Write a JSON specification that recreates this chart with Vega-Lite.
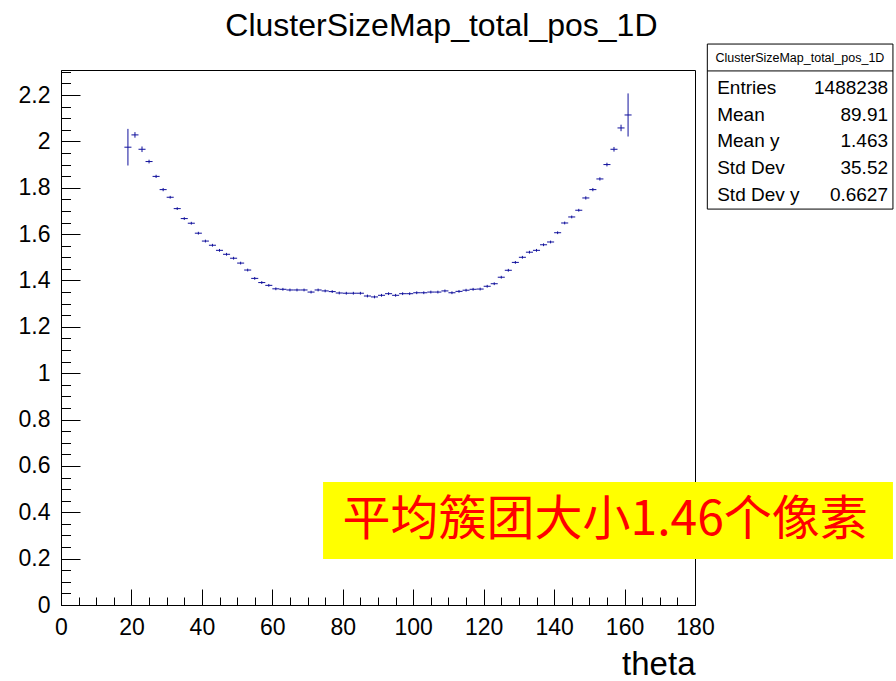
{
  "$schema": "https://vega.github.io/schema/vega-lite/v6.json",
  "width": 634,
  "height": 535,
  "autosize": {"type": "none"},
  "padding": {"left": 61, "top": 70, "right": 201, "bottom": 76},
  "background": "white",
  "config": {
    "view": {"stroke": "#000000", "strokeWidth": 1},
    "font": "Liberation Sans"
  },
  "encoding": {
    "x": {
      "type": "quantitative",
      "scale": {"domain": [0, 180], "nice": false, "zero": false},
      "axis": {
        "title": "theta",
        "titleFont": "Liberation Sans",
        "titleFontSize": 33,
        "titleFontWeight": "normal",
        "titleColor": "#000000",
        "titleAnchor": "end",
        "titleAlign": "right",
        "titleBaseline": "alphabetic",
        "titlePadding": 27,
        "values": [0,5,10,15,20,25,30,35,40,45,50,55,60,65,70,75,80,85,90,95,100,105,110,115,120,125,130,135,140,145,150,155,160,165,170,175,180],
        "labelExpr": "datum.value % 20 === 0 ? datum.label : ''",
        "tickSize": {"condition": {"test": "datum.value % 20 === 0", "value": -16}, "value": -8},
        "tickColor": "#000000",
        "domainColor": "#000000",
        "labelFont": "Liberation Sans",
        "labelFontSize": 23,
        "labelColor": "#000000",
        "labelPadding": 27,
        "labelFlush": false,
        "labelOverlap": false,
        "grid": false
      }
    },
    "y": {
      "type": "quantitative",
      "scale": {"domain": [0, 2.308], "nice": false, "zero": false},
      "axis": {
        "title": null,
        "values": [0,0.05,0.1,0.15,0.2,0.25,0.3,0.35,0.4,0.45,0.5,0.55,0.6,0.65,0.7,0.75,0.8,0.85,0.9,0.95,1,1.05,1.1,1.15,1.2,1.25,1.3,1.35,1.4,1.45,1.5,1.55,1.6,1.65,1.7,1.75,1.8,1.85,1.9,1.95,2,2.05,2.1,2.15,2.2,2.25,2.3],
        "format": "~g",
        "labelExpr": "abs(datum.value * 5 - round(datum.value * 5)) < 0.001 ? datum.label : ''",
        "tickSize": {"condition": {"test": "abs(datum.value * 5 - round(datum.value * 5)) < 0.001", "value": -19}, "value": -9.5},
        "tickColor": "#000000",
        "domainColor": "#000000",
        "labelFont": "Liberation Sans",
        "labelFontSize": 23,
        "labelColor": "#000000",
        "labelPadding": 30,
        "labelFlush": false,
        "labelOverlap": false,
        "grid": false
      }
    }
  },
  "datasets": {
    "bins": [
      {"theta": 19, "lo": 18, "hi": 20, "v": 1.975, "err": 0.079},
      {"theta": 21, "lo": 20, "hi": 22, "v": 2.028, "err": 0.012},
      {"theta": 23, "lo": 22, "hi": 24, "v": 1.966, "err": 0.012},
      {"theta": 25, "lo": 24, "hi": 26, "v": 1.913, "err": 0.008},
      {"theta": 27, "lo": 26, "hi": 28, "v": 1.849, "err": 0.007},
      {"theta": 29, "lo": 28, "hi": 30, "v": 1.792, "err": 0.007},
      {"theta": 31, "lo": 30, "hi": 32, "v": 1.759, "err": 0.006},
      {"theta": 33, "lo": 32, "hi": 34, "v": 1.710, "err": 0.006},
      {"theta": 35, "lo": 34, "hi": 36, "v": 1.667, "err": 0.006},
      {"theta": 37, "lo": 36, "hi": 38, "v": 1.647, "err": 0.006},
      {"theta": 39, "lo": 38, "hi": 40, "v": 1.604, "err": 0.006},
      {"theta": 41, "lo": 40, "hi": 42, "v": 1.570, "err": 0.006},
      {"theta": 43, "lo": 42, "hi": 44, "v": 1.552, "err": 0.006},
      {"theta": 45, "lo": 44, "hi": 46, "v": 1.530, "err": 0.006},
      {"theta": 47, "lo": 46, "hi": 48, "v": 1.513, "err": 0.006},
      {"theta": 49, "lo": 48, "hi": 50, "v": 1.496, "err": 0.006},
      {"theta": 51, "lo": 50, "hi": 52, "v": 1.475, "err": 0.006},
      {"theta": 53, "lo": 52, "hi": 54, "v": 1.445, "err": 0.006},
      {"theta": 55, "lo": 54, "hi": 56, "v": 1.409, "err": 0.006},
      {"theta": 57, "lo": 56, "hi": 58, "v": 1.391, "err": 0.006},
      {"theta": 59, "lo": 58, "hi": 60, "v": 1.379, "err": 0.006},
      {"theta": 61, "lo": 60, "hi": 62, "v": 1.364, "err": 0.006},
      {"theta": 63, "lo": 62, "hi": 64, "v": 1.362, "err": 0.006},
      {"theta": 65, "lo": 64, "hi": 66, "v": 1.359, "err": 0.006},
      {"theta": 67, "lo": 66, "hi": 68, "v": 1.359, "err": 0.006},
      {"theta": 69, "lo": 68, "hi": 70, "v": 1.359, "err": 0.006},
      {"theta": 71, "lo": 70, "hi": 72, "v": 1.350, "err": 0.006},
      {"theta": 73, "lo": 72, "hi": 74, "v": 1.359, "err": 0.006},
      {"theta": 75, "lo": 74, "hi": 76, "v": 1.355, "err": 0.006},
      {"theta": 77, "lo": 76, "hi": 78, "v": 1.352, "err": 0.006},
      {"theta": 79, "lo": 78, "hi": 80, "v": 1.346, "err": 0.006},
      {"theta": 81, "lo": 80, "hi": 82, "v": 1.345, "err": 0.006},
      {"theta": 83, "lo": 82, "hi": 84, "v": 1.345, "err": 0.006},
      {"theta": 85, "lo": 84, "hi": 86, "v": 1.345, "err": 0.006},
      {"theta": 87, "lo": 86, "hi": 88, "v": 1.333, "err": 0.006},
      {"theta": 89, "lo": 88, "hi": 90, "v": 1.329, "err": 0.006},
      {"theta": 91, "lo": 90, "hi": 92, "v": 1.336, "err": 0.006},
      {"theta": 93, "lo": 92, "hi": 94, "v": 1.343, "err": 0.006},
      {"theta": 95, "lo": 94, "hi": 96, "v": 1.336, "err": 0.006},
      {"theta": 97, "lo": 96, "hi": 98, "v": 1.343, "err": 0.006},
      {"theta": 99, "lo": 98, "hi": 100, "v": 1.343, "err": 0.006},
      {"theta": 101, "lo": 100, "hi": 102, "v": 1.347, "err": 0.006},
      {"theta": 103, "lo": 102, "hi": 104, "v": 1.347, "err": 0.006},
      {"theta": 105, "lo": 104, "hi": 106, "v": 1.350, "err": 0.006},
      {"theta": 107, "lo": 106, "hi": 108, "v": 1.350, "err": 0.006},
      {"theta": 109, "lo": 108, "hi": 110, "v": 1.355, "err": 0.006},
      {"theta": 111, "lo": 110, "hi": 112, "v": 1.347, "err": 0.006},
      {"theta": 113, "lo": 112, "hi": 114, "v": 1.353, "err": 0.006},
      {"theta": 115, "lo": 114, "hi": 116, "v": 1.358, "err": 0.006},
      {"theta": 117, "lo": 116, "hi": 118, "v": 1.362, "err": 0.006},
      {"theta": 119, "lo": 118, "hi": 120, "v": 1.363, "err": 0.006},
      {"theta": 121, "lo": 120, "hi": 122, "v": 1.375, "err": 0.006},
      {"theta": 123, "lo": 122, "hi": 124, "v": 1.386, "err": 0.006},
      {"theta": 125, "lo": 124, "hi": 126, "v": 1.414, "err": 0.006},
      {"theta": 127, "lo": 126, "hi": 128, "v": 1.444, "err": 0.006},
      {"theta": 129, "lo": 128, "hi": 130, "v": 1.478, "err": 0.006},
      {"theta": 131, "lo": 130, "hi": 132, "v": 1.500, "err": 0.006},
      {"theta": 133, "lo": 132, "hi": 134, "v": 1.522, "err": 0.006},
      {"theta": 135, "lo": 134, "hi": 136, "v": 1.530, "err": 0.006},
      {"theta": 137, "lo": 136, "hi": 138, "v": 1.554, "err": 0.006},
      {"theta": 139, "lo": 138, "hi": 140, "v": 1.566, "err": 0.006},
      {"theta": 141, "lo": 140, "hi": 142, "v": 1.606, "err": 0.006},
      {"theta": 143, "lo": 142, "hi": 144, "v": 1.648, "err": 0.006},
      {"theta": 145, "lo": 144, "hi": 146, "v": 1.674, "err": 0.006},
      {"theta": 147, "lo": 146, "hi": 148, "v": 1.703, "err": 0.006},
      {"theta": 149, "lo": 148, "hi": 150, "v": 1.756, "err": 0.007},
      {"theta": 151, "lo": 150, "hi": 152, "v": 1.792, "err": 0.007},
      {"theta": 153, "lo": 152, "hi": 154, "v": 1.838, "err": 0.007},
      {"theta": 155, "lo": 154, "hi": 156, "v": 1.900, "err": 0.008},
      {"theta": 157, "lo": 156, "hi": 158, "v": 1.966, "err": 0.010},
      {"theta": 159, "lo": 158, "hi": 160, "v": 2.058, "err": 0.014},
      {"theta": 161, "lo": 160, "hi": 162, "v": 2.114, "err": 0.093}
    ],
    "one": [{}]
  },
  "layer": [
    {
      "data": {"name": "bins"},
      "mark": {"type": "rule", "color": "#10109c", "strokeWidth": 1},
      "encoding": {
        "x": {"field": "lo"},
        "x2": {"field": "hi"},
        "y": {"field": "v"}
      }
    },
    {
      "data": {"name": "bins"},
      "mark": {"type": "errorbar", "color": "#10109c", "thickness": 1},
      "encoding": {
        "x": {"field": "theta"},
        "y": {"field": "v"},
        "yError": {"field": "err"}
      }
    },
    {
      "data": {"name": "one"},
      "mark": {"type": "text", "font": "Liberation Sans", "fontSize": 32, "fontWeight": "normal", "align": "center", "baseline": "alphabetic", "fill": "#000000"},
      "encoding": {
        "x": {"datum": 108.0},
        "y": {"datum": 2.4547},
        "text": {"value": "ClusterSizeMap_total_pos_1D"}
      }
    },
    {
      "data": {"name": "one"},
      "mark": {"type": "rect", "fill": "#ffffff", "stroke": "#000000", "strokeWidth": 1, "clip": false},
      "encoding": {
        "x": {"datum": 183.5},
        "x2": {"datum": 236.2},
        "y": {"datum": 2.42},
        "y2": {"datum": 1.708}
      }
    },
    {
      "data": {"name": "one"},
      "mark": {"type": "rule", "color": "#000000", "strokeWidth": 1},
      "encoding": {
        "x": {"datum": 183.5},
        "x2": {"datum": 236.2},
        "y": {"datum": 2.304}
      }
    },
    {
      "data": {"name": "one"},
      "mark": {"type": "text", "font": "Liberation Sans", "fontSize": 12.5, "fontWeight": "normal", "align": "center", "baseline": "alphabetic", "fill": "#000000"},
      "encoding": {
        "x": {"datum": 209.8},
        "y": {"datum": 2.343},
        "text": {"value": "ClusterSizeMap_total_pos_1D"}
      }
    },
    {
      "data": {"name": "one"},
      "mark": {"type": "text", "font": "Liberation Sans", "fontSize": 19, "fontWeight": "normal", "align": "left", "baseline": "alphabetic", "lineHeight": 26.75, "fill": "#000000"},
      "encoding": {
        "x": {"datum": 186.3},
        "y": {"datum": 2.2045},
        "text": {"value": ["Entries", "Mean", "Mean y", "Std Dev", "Std Dev y"]}
      }
    },
    {
      "data": {"name": "one"},
      "mark": {"type": "text", "font": "Liberation Sans", "fontSize": 19, "fontWeight": "normal", "align": "right", "baseline": "alphabetic", "lineHeight": 26.75, "fill": "#000000"},
      "encoding": {
        "x": {"datum": 234.8},
        "y": {"datum": 2.2045},
        "text": {"value": ["1488238", "89.91", "1.463", "35.52", "0.6627"]}
      }
    },
    {
      "data": {"name": "one"},
      "mark": {"type": "rect", "fill": "#ffff00", "clip": false},
      "encoding": {
        "x": {"datum": 74.4},
        "x2": {"datum": 236.2},
        "y": {"datum": 0.5306},
        "y2": {"datum": 0.1984}
      }
    },
    {
      "data": {"name": "one"},
      "mark": {"type": "text", "font": "Noto Sans CJK SC", "fontSize": 48, "fontWeight": "normal", "align": "center", "baseline": "middle", "fill": "#ff0000"},
      "encoding": {
        "x": {"datum": 154.5},
        "y": {"datum": 0.3624},
        "text": {"value": "平均簇团大小1.46个像素"}
      }
    }
  ]
}
